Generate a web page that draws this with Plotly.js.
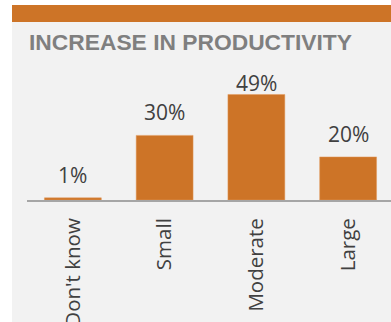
<!DOCTYPE html>
<html>
<head>
<meta charset="utf-8">
<script src="https://cdn.plot.ly/plotly-3.0.1.min.js"></script>
<style>
  html, body { margin:0; padding:0; background:#ffffff; width:391px; height:322px; overflow:hidden; }
  #band { position:absolute; left:12px; top:5px; width:379px; height:17px; background:#CD7427; }
  #chart { position:absolute; left:12px; top:22px; width:382px; height:300px; }
</style>
</head>
<body>
<div id="band"></div>
<div id="chart"></div>
<script>
// Data
const categories = ["Don't know", "Small", "Moderate", "Large"];
const values = [1, 30, 49, 20];
const valueLabels = ["1%", "30%", "49%", "20%"];
const chartTitle = "INCREASE IN PRODUCTIVITY";

// Styling
const orange = "#CD7427";
const textColor = "#404040";
const yMax = 65;
const plotHeightPx = 140;
const pxPerUnit = plotHeightPx / yMax;
const labelOffsetPx = 23;
const labelCeiling = 54.4; // labels are kept inside the chart area

const annotations = values.map((v, i) => ({
  x: categories[i], y: v, xref: 'x', yref: 'y',
  text: valueLabels[i], showarrow: false,
  xanchor: 'center', yanchor: 'middle',
  yshift: Math.min(labelOffsetPx, (labelCeiling - v) * pxPerUnit),
  font: { family: 'Open Sans', size: 21, color: textColor }
}));

annotations.push({
  text: chartTitle, showarrow: false,
  xref: 'paper', yref: 'paper', x: 0, y: 1 + 18.5/140,
  xanchor: 'left', yanchor: 'middle',
  font: { family: 'Liberation Sans, Arial', size: 22.8, color: '#7F7F7F', weight: 'bold' }
});

const trace = {
  type: 'bar', x: categories, y: values,
  marker: { color: orange, line: { color: '#E39A5C', width: 0.5 } },
  hoverinfo: 'none'
};

const layout = {
  width: 382, height: 300,
  margin: { l: 15, r: 0, t: 38, b: 122 },
  paper_bgcolor: '#F2F2F2', plot_bgcolor: '#F2F2F2',
  bargap: 0.38,
  showlegend: false,
  xaxis: {
    type: 'category', tickangle: -90,
    showline: true, linecolor: '#A6A6A6', linewidth: 2,
    showgrid: false, zeroline: false,
    ticks: 'outside', ticklen: 8, tickcolor: 'rgba(0,0,0,0)',
    tickfont: { family: 'Open Sans', size: 20.5, color: textColor }
  },
  yaxis: { range: [0, yMax], visible: false, showgrid: false, zeroline: false, fixedrange: true },
  annotations: annotations
};

Plotly.newPlot('chart', [trace], layout, { staticPlot: true, displayModeBar: false });
</script>
</body>
</html>
